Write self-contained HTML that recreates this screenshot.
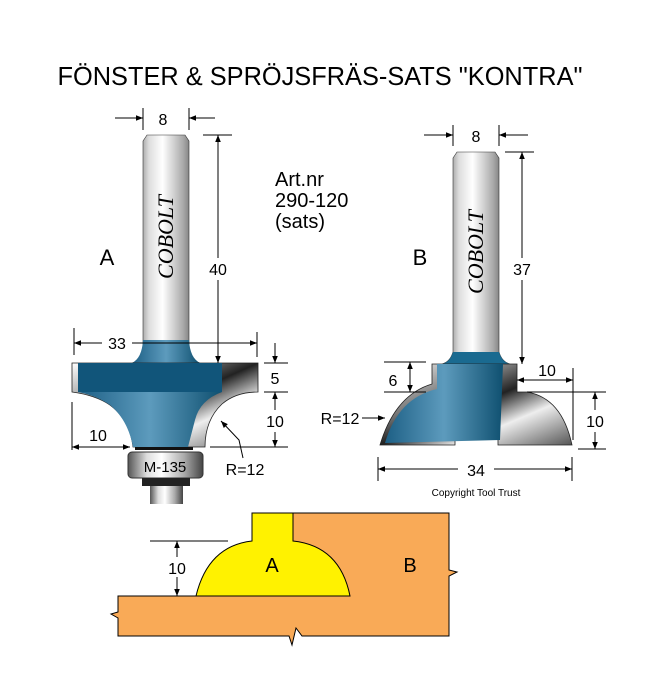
<!DOCTYPE html>
<html><head><meta charset="utf-8"><style>
html,body{margin:0;padding:0;background:#fff}
svg{display:block}
text{font-family:"Liberation Sans",sans-serif;fill:#000}
</style></head><body>
<svg width="664" height="698" viewBox="0 0 664 698" xmlns="http://www.w3.org/2000/svg">
<defs>
<linearGradient id="sil" x1="0" x2="1" y1="0" y2="0">
<stop offset="0" stop-color="#555"/><stop offset="0.25" stop-color="#ddd"/><stop offset="0.45" stop-color="#fff"/><stop offset="0.75" stop-color="#aaa"/><stop offset="1" stop-color="#444"/>
</linearGradient>
<linearGradient id="blu" x1="0" x2="1" y1="0" y2="0">
<stop offset="0" stop-color="#1d5f85"/><stop offset="0.5" stop-color="#5d9bbd"/><stop offset="1" stop-color="#0f5070"/>
</linearGradient>
<linearGradient id="sil2" x1="0" x2="1" y1="0" y2="1">
<stop offset="0" stop-color="#fff"/><stop offset="0.35" stop-color="#777"/><stop offset="0.5" stop-color="#222"/><stop offset="0.7" stop-color="#eee"/><stop offset="1" stop-color="#555"/>
</linearGradient>
<marker id="ar" viewBox="0 0 10 10" refX="10" refY="5" markerWidth="9" markerHeight="7" orient="auto-start-reverse" markerUnits="userSpaceOnUse"><path d="M0,1 L10,5 L0,9 z" fill="#000"/></marker>
</defs>

<text x="320" y="85" font-size="26" text-anchor="middle" textLength="525" lengthAdjust="spacingAndGlyphs">FÖNSTER &amp; SPRÖJSFRÄS-SATS "KONTRA"</text>

<!-- Tool A -->
<path d="M143,141 L147,135 L185,135 L189,141 L189,345 Q190,360 200,363 L132,363 Q142,360 143,345 Z" fill="url(#sil)" stroke="#333" stroke-width="0.6"/>
<path d="M143,340 L189,340 Q190,358 200,363 L132,363 Q142,358 143,340 Z" fill="url(#blu)"/>
<path d="M72,363 L258,363 L258,392 Q236,392 222,404 Q205,420 205,447 L187,447 L133,447 Q130,420 110,405 Q95,395 72,392 Z" fill="url(#sil2)" stroke="#222" stroke-width="0.8"/>
<path d="M78,363 L222,363 L222,392 Q200,400 195,420 L188,447 L133,447 Q128,420 110,405 Q95,395 78,392 Z" fill="url(#blu)"/>
<rect x="78" y="363" width="144" height="29" fill="#11557a"/>
<rect x="135" y="447" width="58" height="3" fill="#111"/>
<rect x="128" y="452" width="75" height="26" rx="4" fill="url(#sil)" stroke="#333"/>
<text x="165" y="472" font-size="15" text-anchor="middle">M-135</text>
<rect x="142" y="478" width="48" height="8" fill="#222"/>
<rect x="150" y="486" width="33" height="18" fill="url(#sil)"/>
<text transform="translate(173,237) rotate(-90)" font-style="italic" font-size="22" text-anchor="middle" style="font-family:'Liberation Serif',serif">COBOLT</text>

<g stroke="#000" stroke-width="1" fill="none">
<line x1="143" y1="108" x2="143" y2="130"/><line x1="189" y1="108" x2="189" y2="130"/>
<line x1="115" y1="118" x2="143" y2="118" marker-end="url(#ar)"/>
<line x1="215" y1="118" x2="189" y2="118" marker-end="url(#ar)"/>
<line x1="203" y1="135" x2="232" y2="135"/>
<line x1="218" y1="135" x2="218" y2="258" marker-start="url(#ar)"/>
<line x1="218" y1="280" x2="218" y2="363" marker-end="url(#ar)"/>
<line x1="74" y1="328" x2="74" y2="355"/><line x1="257" y1="332" x2="257" y2="357"/>
<line x1="102" y1="343" x2="74" y2="343" marker-end="url(#ar)"/>
<line x1="132" y1="343" x2="257" y2="343" marker-end="url(#ar)"/>
<line x1="264" y1="363" x2="288" y2="363"/><line x1="264" y1="392" x2="288" y2="392"/>
<line x1="275" y1="343" x2="275" y2="363" marker-end="url(#ar)"/>
<line x1="275" y1="392" x2="275" y2="410" marker-start="url(#ar)"/>
<line x1="275" y1="432" x2="275" y2="447" marker-end="url(#ar)"/>
<line x1="210" y1="447" x2="288" y2="447"/>
<line x1="72" y1="402" x2="72" y2="450"/>
<line x1="72" y1="447" x2="130" y2="447" marker-start="url(#ar)" marker-end="url(#ar)"/>
<polyline points="243,458 239,440 221,421" marker-end="url(#ar)"/>
</g>
<rect x="208" y="259" width="20" height="20" fill="#fff"/>
<text x="218" y="275" font-size="16" text-anchor="middle">40</text>
<text x="163" y="125" font-size="16" text-anchor="middle">8</text>
<text x="117" y="349" font-size="16" text-anchor="middle">33</text>
<text x="275" y="384" font-size="16" text-anchor="middle">5</text>
<text x="275" y="427" font-size="16" text-anchor="middle">10</text>
<text x="98" y="441" font-size="16" text-anchor="middle">10</text>
<text x="245" y="475" font-size="16" text-anchor="middle">R=12</text>
<text x="107" y="265" font-size="22" text-anchor="middle">A</text>
<text x="275" y="186" font-size="20">Art.nr</text>
<text x="275" y="207" font-size="20">290-120</text>
<text x="275" y="228" font-size="20">(sats)</text>

<!-- Tool B -->
<path d="M453,158 L457,152 L495,152 L499,158 L499,352 Q502,362 510,364 L442,364 Q450,362 453,352 Z" fill="url(#sil)" stroke="#333" stroke-width="0.6"/>
<path d="M453,352 L499,352 Q502,362 510,364 L442,364 Q450,362 453,352 Z" fill="#1a6a90"/>
<path d="M432,364 L517,364 L517,392 L527,392 Q562,398 572,445 L498,445 L498,438 L455,438 L455,445 L380,445 Q395,395 432,384 Z" fill="url(#sil2)" stroke="#222" stroke-width="0.8"/>
<path d="M437,364 L503,364 L500,440 L385,443 Q398,398 437,389 Z" fill="url(#blu)"/>
<text transform="translate(483,252) rotate(-90)" font-style="italic" font-size="22" text-anchor="middle" style="font-family:'Liberation Serif',serif">COBOLT</text>
<g stroke="#000" stroke-width="1" fill="none">
<line x1="453" y1="125" x2="453" y2="146"/><line x1="499" y1="125" x2="499" y2="146"/>
<line x1="424" y1="135" x2="453" y2="135" marker-end="url(#ar)"/>
<line x1="528" y1="135" x2="499" y2="135" marker-end="url(#ar)"/>
<line x1="505" y1="152" x2="534" y2="152"/>
<line x1="522" y1="152" x2="522" y2="258" marker-start="url(#ar)"/>
<line x1="522" y1="280" x2="522" y2="364" marker-end="url(#ar)"/>
<line x1="384" y1="362" x2="426" y2="362"/><line x1="384" y1="392" x2="426" y2="392"/>
<line x1="410" y1="362" x2="410" y2="392" marker-start="url(#ar)" marker-end="url(#ar)"/>
<line x1="517" y1="380" x2="573" y2="380" marker-start="url(#ar)" marker-end="url(#ar)"/>
<line x1="573" y1="368" x2="573" y2="440"/>
<line x1="527" y1="392" x2="606" y2="392"/><line x1="578" y1="449" x2="606" y2="449"/>
<line x1="595" y1="392" x2="595" y2="410" marker-start="url(#ar)"/>
<line x1="595" y1="432" x2="595" y2="449" marker-end="url(#ar)"/>
<line x1="362" y1="418" x2="385" y2="418" marker-end="url(#ar)"/>
<line x1="378" y1="457" x2="378" y2="481"/><line x1="572" y1="457" x2="572" y2="481"/>
<line x1="458" y1="469" x2="378" y2="469" marker-end="url(#ar)"/>
<line x1="494" y1="469" x2="572" y2="469" marker-end="url(#ar)"/>
</g>
<text x="476" y="142" font-size="16" text-anchor="middle">8</text>
<text x="522" y="275" font-size="16" text-anchor="middle">37</text>
<text x="393" y="386" font-size="16" text-anchor="middle">6</text>
<text x="547" y="376" font-size="16" text-anchor="middle">10</text>
<text x="595" y="427" font-size="16" text-anchor="middle">10</text>
<text x="340" y="424" font-size="16" text-anchor="middle">R=12</text>
<text x="476" y="476" font-size="16" text-anchor="middle">34</text>
<text x="476" y="496" font-size="10" text-anchor="middle">Copyright Tool Trust</text>
<text x="420" y="265" font-size="22" text-anchor="middle">B</text>

<!-- Bottom profile -->
<path d="M293,513 L449,513 L449,570 L457,572 L449,576 L449,636 L302,636 L296,628 L292,645 L289,636 L118,636 L118,618 L111,614 L118,612 L118,596 L293,596 Z" fill="#f9aa57" stroke="#000" stroke-width="1"/>
<path d="M252,513 L293,513 L293,541 Q340,546 350,596 L196,596 Q208,546 252,541 Z" fill="#fff200" stroke="#000" stroke-width="1"/>
<line x1="150" y1="541" x2="228" y2="541" stroke="#000"/>
<line x1="177" y1="541" x2="177" y2="557" stroke="#000" marker-start="url(#ar)"/>
<line x1="177" y1="577" x2="177" y2="596" stroke="#000" marker-end="url(#ar)"/>
<text x="177" y="574" font-size="16" text-anchor="middle">10</text>
<text x="272" y="572" font-size="20" text-anchor="middle">A</text>
<text x="410" y="572" font-size="20" text-anchor="middle">B</text>
</svg>
</body></html>
